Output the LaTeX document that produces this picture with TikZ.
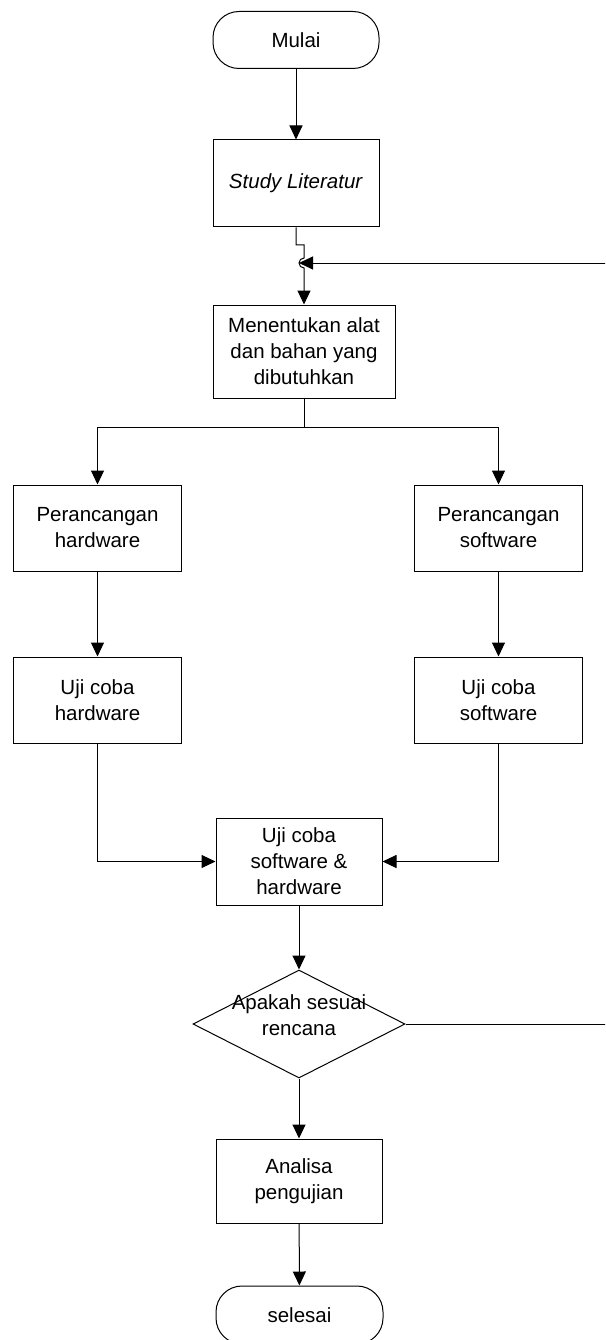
\documentclass[tikz,border=0pt]{standalone}
\usepackage{fontspec}
\setmainfont{Liberation Sans}
\usetikzlibrary{shapes.geometric}
\usetikzlibrary{positioning}
\usetikzlibrary{arrows.meta}

\begin{document}
\begin{tikzpicture}[x=1pt, y=-1pt,
    every node/.style={font=\fontsize{20.5}{26}\selectfont, align=center},
    proses/.style={draw, rectangle, line width=1pt, inner sep=0pt, minimum width=166pt, minimum height=86pt},
    terminal/.style={draw, rectangle, rounded corners=26pt, line width=1pt, inner sep=0pt, minimum width=166pt, minimum height=57pt},
    keputusan/.style={draw, diamond, line width=1pt, inner sep=0pt, minimum width=212pt, minimum height=108pt},
    panah/.style={-{Triangle[width=13pt,length=14pt]}, line width=1pt}]
            \clip (0,0) rectangle (605,1340);
            \useasboundingbox (0,0) rectangle (605,1340);
            % Alur utama
            \node[terminal] (mulai) at (296,40) {Mulai};
            \node[proses, minimum height=87pt] (studi) at (296,183.5) {\textit{Study Literatur}};
            \node[proses, minimum width=182pt, minimum height=93pt] (alat) at (304,351.5) {Menentukan alat\\dan bahan yang\\dibutuhkan};
            \node[proses, minimum width=168pt] (rancanghw) at (97.5,528) {Perancangan\\hardware};
            \node[proses, minimum width=168pt] (rancangsw) at (498.5,528) {Perancangan\\software};
            \node[proses, minimum width=168pt] (ujihw) at (97.5,700) {Uji coba\\hardware};
            \node[proses, minimum width=168pt] (ujisw) at (498.5,700) {Uji coba\\software};
            \node[proses, minimum height=87pt] (ujigab) at (299,861.5) {Uji coba\\software \&\\hardware};
            \node[keputusan, label={[yshift=9pt]center:{Apakah sesuai\\rencana}}] (cek) at (299,1024) {};
            \node[proses, minimum height=84pt] (analisa) at (299,1181) {Analisa\\pengujian};
            \node[terminal, minimum width=167pt, minimum height=58pt] (selesai) at (299.5,1315) {selesai};

            % Titik bantu
            \coordinate (belok) at (304,245);
            \coordinate (cabang) at (304,427);
            \coordinate (lompat) at (299,263);
            \coordinate (balikbawah) at (612,1024);
            \coordinate (balikatas) at (612,263);

            % Penghubung
            \draw[panah] (mulai) -- (studi);
            \draw[panah] (studi.south) |- (belok) -- ++(0,13) arc[start angle=90, end angle=270, radius=5pt] -- (alat.north);
            \draw[line width=1pt] (alat.south) -- (cabang);
            \draw[panah] (cabang) -| (rancanghw.north);
            \draw[panah] (cabang) -| (rancangsw.north);
            \draw[panah] (rancanghw) -- (ujihw);
            \draw[panah] (rancangsw) -- (ujisw);
            \draw[panah] (ujihw.south) |- (ujigab.west);
            \draw[panah] (ujisw.south) |- (ujigab.east);
            \draw[panah] (ujigab) -- (cek);
            \draw[panah] (cek) -- (analisa);
            \draw[panah] (analisa) -- (selesai);
            % Umpan balik
            \draw[panah] (cek.east) -- (balikbawah) -- (balikatas) -- (lompat);
        \end{tikzpicture}
\end{document}
